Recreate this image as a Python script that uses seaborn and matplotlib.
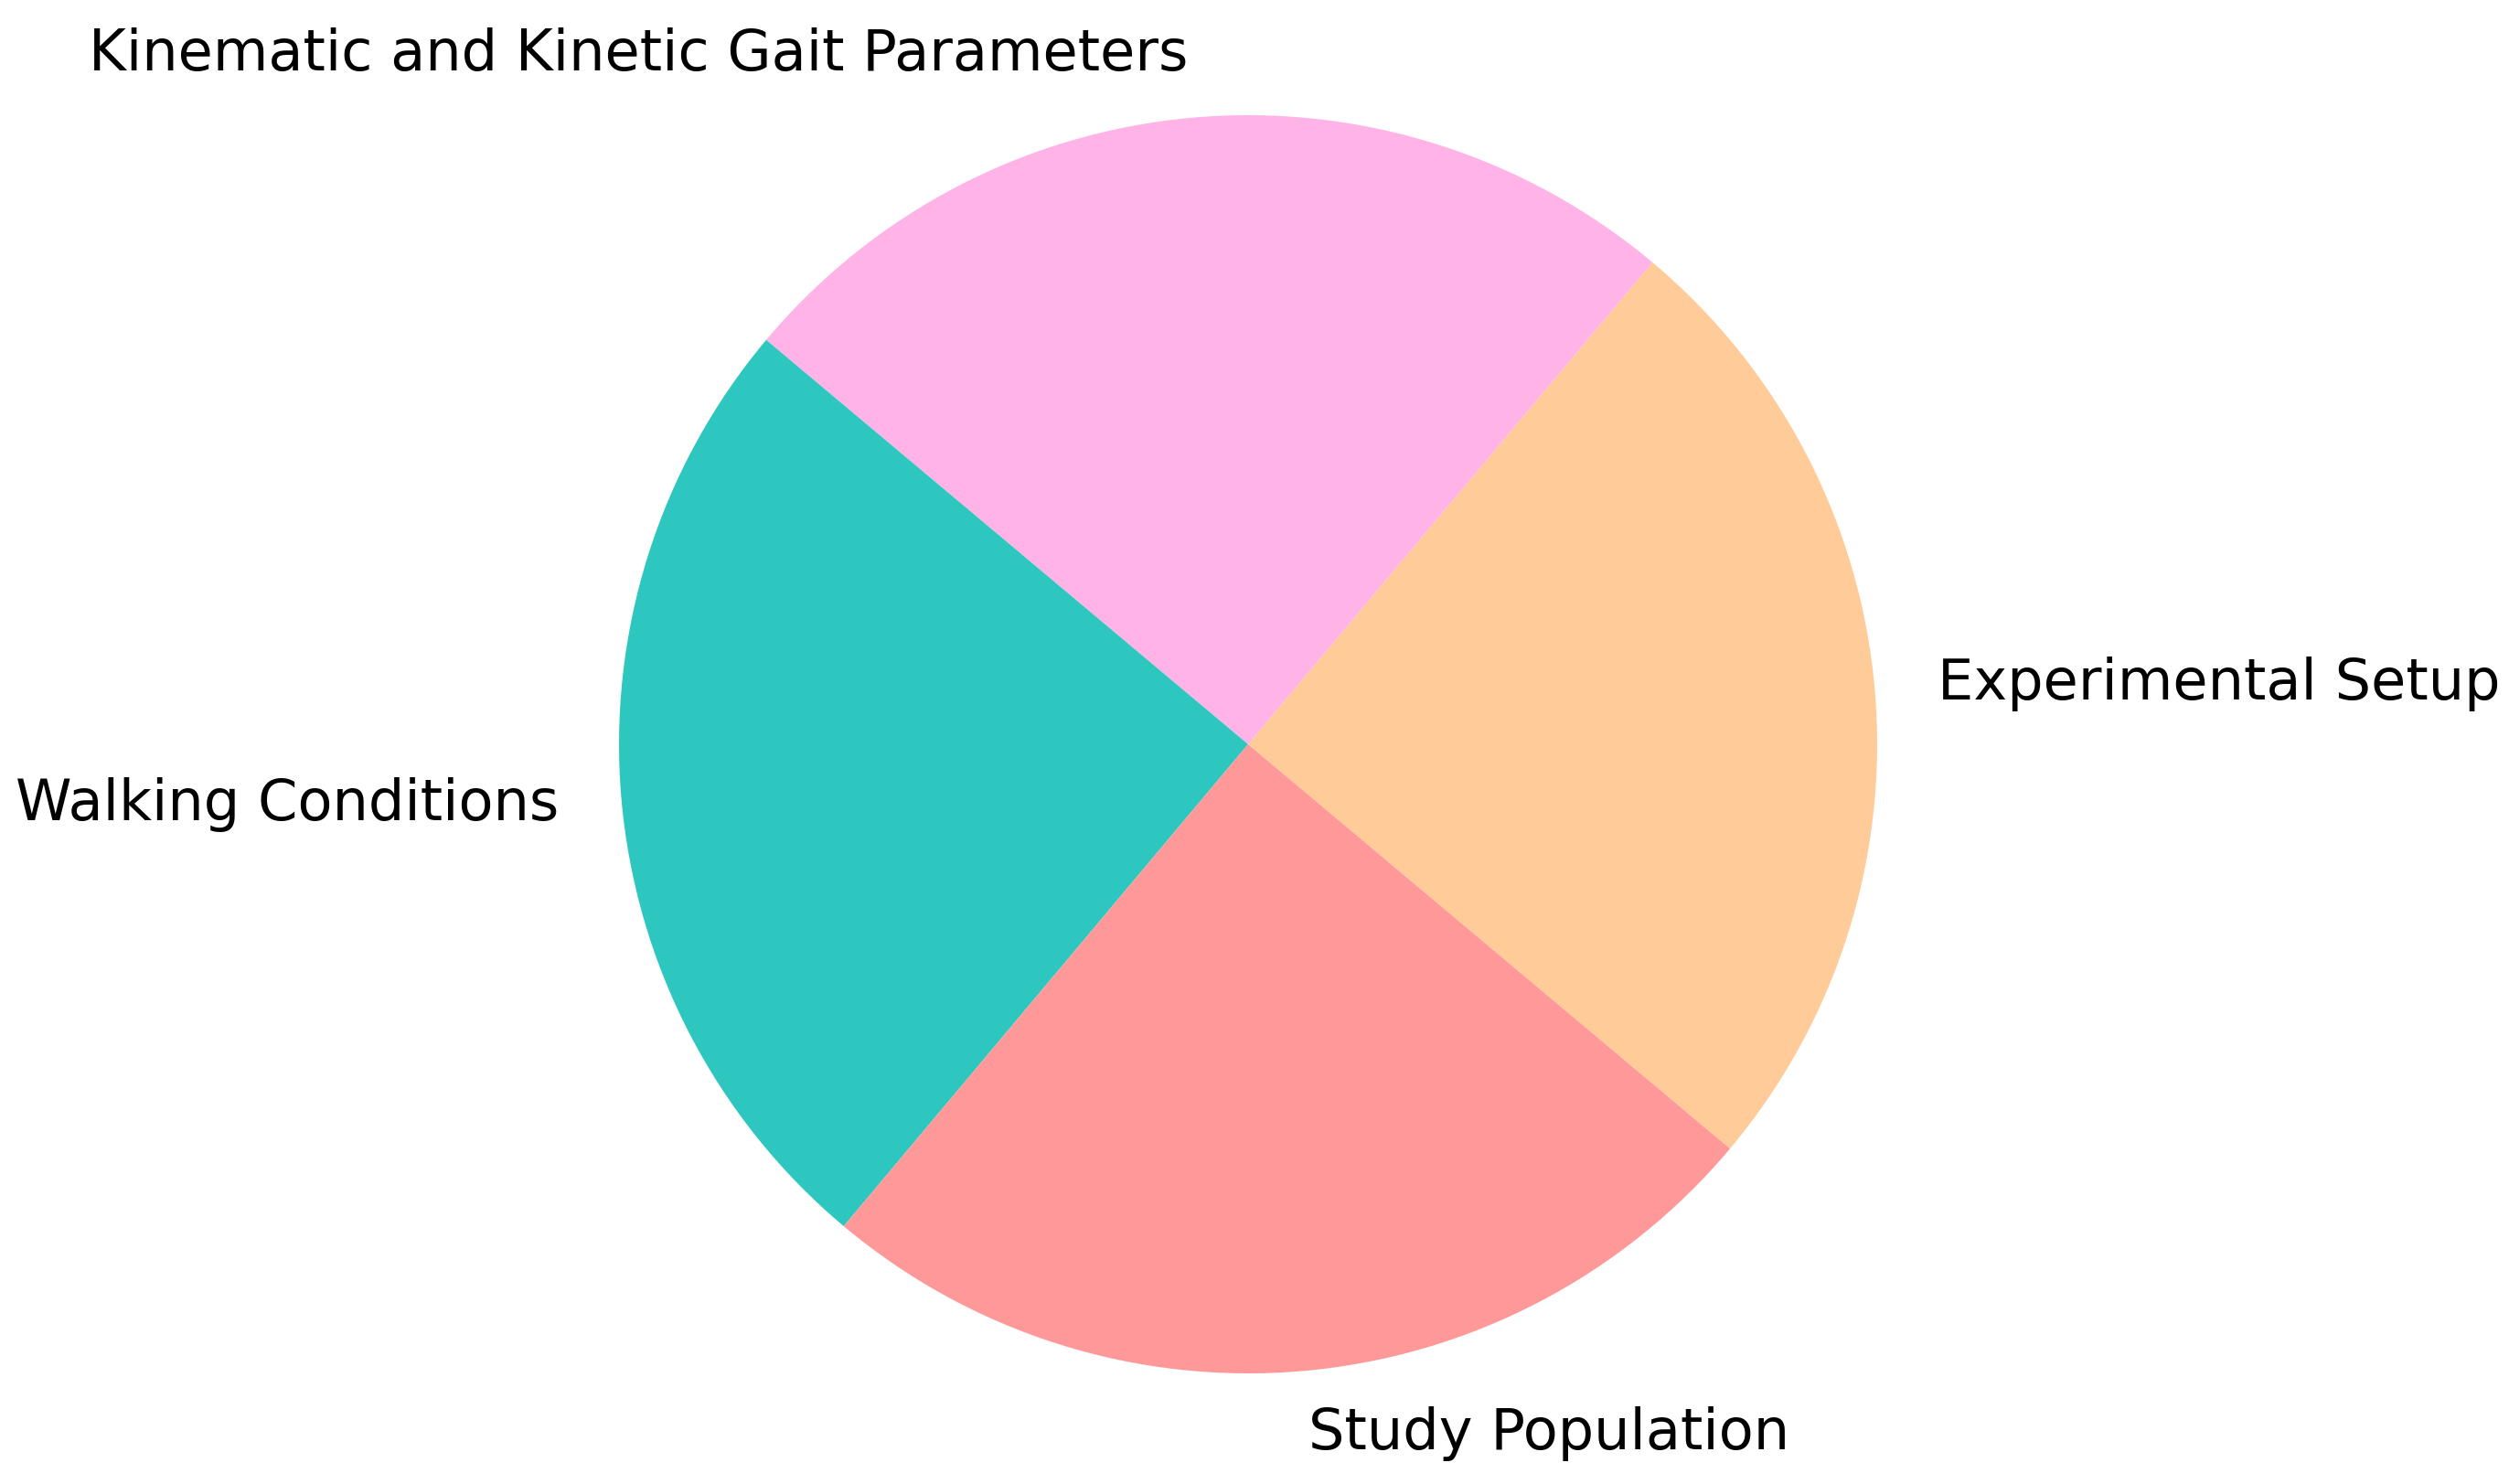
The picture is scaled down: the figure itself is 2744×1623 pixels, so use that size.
import matplotlib
matplotlib.use('Agg')
import matplotlib.pyplot as plt
import seaborn as sns

# data: four equal sections of the study
sections = ['Experimental Setup', 'Kinematic and Kinetic Gait Parameters',
            'Walking Conditions', 'Study Population']
shares = [25, 25, 25, 25]
colors = ['#ffcc99', '#ffb3e6', '#2ec7c0', '#ff9999']

sns.set_style('white')
plt.rcParams['font.family'] = ['DejaVu Sans']

fig = plt.figure(figsize=(13.72, 8.115), dpi=200)
# axes placed so that one data unit is ~688 px in both directions
W, H = 2744, 1623
scale = 688
cx, cy = 1365, H - 814
hx, hy = 1.3, 1.15
ax = fig.add_axes([(cx - hx * scale) / W, (cy - hy * scale) / H,
                   2 * hx * scale / W, 2 * hy * scale / H])

ax.pie(shares, labels=sections, colors=colors, startangle=-40,
       wedgeprops={'linewidth': 0},
       textprops={'fontsize': 22.4, 'color': 'black'})
ax.set_xlim(-hx, hx)
ax.set_ylim(-hy, hy)
ax.axis('off')

fig.savefig('out.png', dpi=200, facecolor='white')
